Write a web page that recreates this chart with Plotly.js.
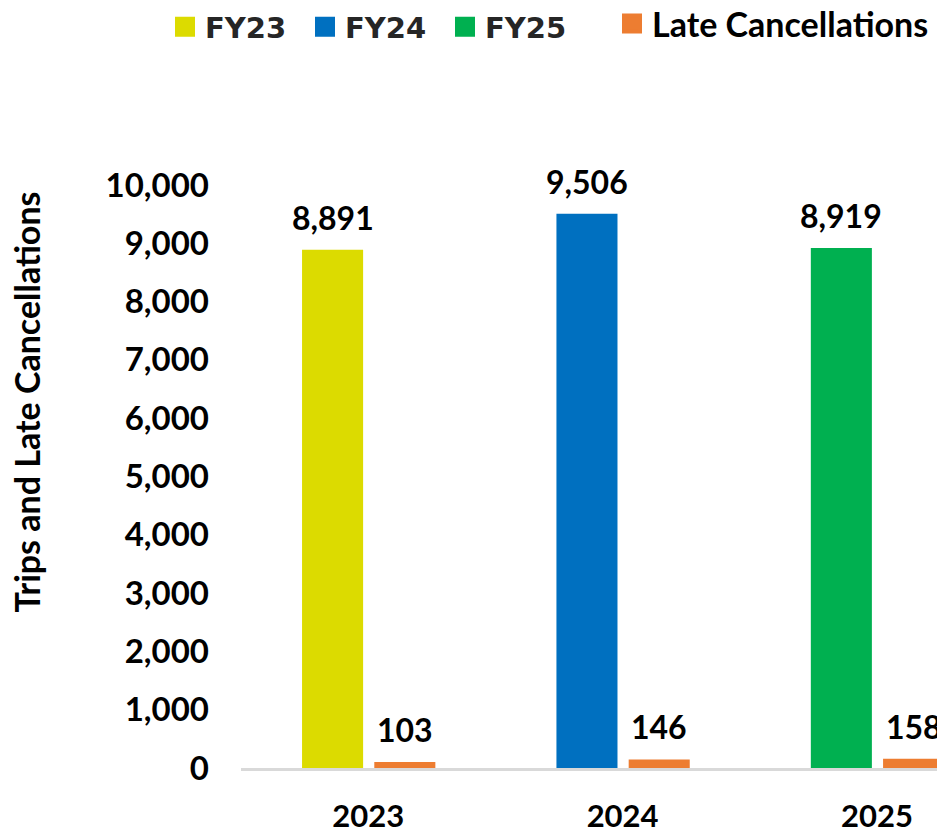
<!DOCTYPE html>
<html>
<head>
<meta charset="utf-8">
<script src="https://cdn.plot.ly/plotly-3.0.1.min.js"></script>
<style>html,body{margin:0;padding:0;background:#fff;}#chart{width:937px;height:833px;}</style>
</head>
<body>
<div id="chart"></div>
<script>
// ---- data ----
const years = ['2023', '2024', '2025'];
const fyNames = ['FY23', 'FY24', 'FY25'];
const trips = [8891, 9506, 8919];
const lateCancellations = [103, 146, 158];
const yTickVals = [0, 1000, 2000, 3000, 4000, 5000, 6000, 7000, 8000, 9000, 10000];

// ---- style ----
const fyColors = ['#DCDB00', '#0070C0', '#00B050'];
const lateColor = '#ED7D31';
const W = 937, H = 833;
const margin = {l: 241, r: 0, t: 36, b: 65, pad: 0};
const xRange = [-0.5, 2.236];
const yRange = [0, 12556];
const barW = 0.24, fyOff = -0.26, lateOff = 0.024;
const pxPerUnit = (W - margin.l - margin.r) / (xRange[1] - xRange[0]);
const mainFont = 'Lato, "Open Sans", sans-serif';

const traces = [];
years.forEach((yr, i) => {
  traces.push({
    type: 'bar', x: [yr], y: [trips[i]], showlegend: false,
    marker: {color: fyColors[i]}, width: barW, offset: fyOff, hoverinfo: 'y'
  });
});
traces.push({
  type: 'bar', x: years, y: lateCancellations, showlegend: false,
  marker: {color: lateColor}, width: barW, offset: lateOff, hoverinfo: 'y'
});
// legend entries (no data of their own)
years.forEach((yr, i) => {
  traces.push({
    type: 'scatter', mode: 'markers', x: [null], y: [null], legend: 'legend',
    name: fyNames[i],
    marker: {symbol: 'square', size: 16, color: fyColors[i], line: {width: 4, color: fyColors[i]}}
  });
});
traces.push({
  type: 'scatter', mode: 'markers', x: [null], y: [null], name: 'Late Cancellations', legend: 'legend2',
  marker: {symbol: 'square', size: 16, color: lateColor, line: {width: 4, color: lateColor}}
});

const annotations = [];
const fmt = v => v.toLocaleString('en-US');
const labelFont = {family: mainFont, size: 32, weight: 700, color: '#000'};
years.forEach((yr, i) => {
  annotations.push({x: i, y: trips[i], xref: 'x', yref: 'y', text: fmt(trips[i]),
    showarrow: false, yanchor: 'bottom', xshift: (fyOff + barW / 2) * pxPerUnit, yshift: 11,
    font: labelFont});
  annotations.push({x: i, y: lateCancellations[i], xref: 'x', yref: 'y', text: fmt(lateCancellations[i]),
    showarrow: false, yanchor: 'bottom', xshift: (lateOff + barW / 2) * pxPerUnit, yshift: 11,
    font: labelFont});
});

const layout = {
  width: W, height: H, margin: Object.assign({autoexpand: false}, margin),
  paper_bgcolor: '#fff', plot_bgcolor: '#fff',
  barmode: 'overlay', showlegend: true,
  font: {family: mainFont, color: '#000'},
  legend: {orientation: 'h', x: 165 / W, xanchor: 'left', y: 1 - 27 / H, yanchor: 'middle',
    xref: 'container', yref: 'container', entrywidth: 95, entrywidthmode: 'pixels',
    font: {family: '"DejaVu Sans", sans-serif', size: 29, weight: 700, color: '#262626'},
    traceorder: 'normal', bgcolor: 'rgba(0,0,0,0)'},
  legend2: {orientation: 'h', x: 612 / W, xanchor: 'left', y: 1 - 24 / H, yanchor: 'middle',
    xref: 'container', yref: 'container',
    font: {family: mainFont, size: 34, weight: 700, color: '#000'},
    bgcolor: 'rgba(0,0,0,0)'},
  xaxis: {type: 'category', range: xRange, showline: true, linecolor: '#D9D9D9', linewidth: 3,
    showgrid: false, zeroline: false, ticks: '', ticklabelstandoff: 19,
    tickfont: {family: mainFont, size: 31, weight: 700, color: '#000'}, fixedrange: true},
  yaxis: {range: yRange, tickvals: yTickVals, tickformat: ',d', showgrid: false, zeroline: false,
    showline: false, ticks: '', ticklabelstandoff: 31,
    tickfont: {family: mainFont, size: 33, weight: 700, color: '#000'},
    title: {text: 'Trips and Late Cancellations', standoff: 54,
      font: {family: mainFont, size: 34, weight: 700, color: '#000'}}, fixedrange: true},
  annotations: annotations
};

Plotly.newPlot('chart', traces, layout, {displayModeBar: false, staticPlot: true});
</script>
</body>
</html>
